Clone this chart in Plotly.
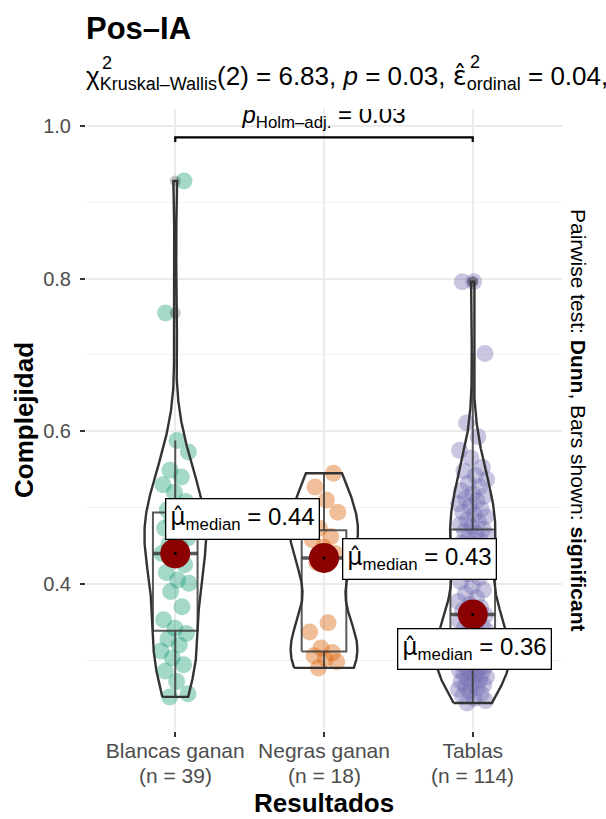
import numpy as np
import plotly.graph_objects as go

# ---------------- data ----------------
categories = ["Blancas ganan", "Negras ganan", "Tablas"]

blancas = [0.252, 0.256, 0.272, 0.286, 0.294, 0.303, 0.312, 0.320, 0.328, 0.335,
           0.342, 0.353, 0.370, 0.390, 0.401, 0.405, 0.415, 0.425, 0.435, 0.440,
           0.448, 0.452, 0.460, 0.466, 0.473, 0.478, 0.484, 0.486, 0.490, 0.497,
           0.508, 0.520, 0.530, 0.540, 0.549, 0.573, 0.588, 0.755, 0.928]

negras = [0.290, 0.298, 0.302, 0.306, 0.310, 0.316, 0.337, 0.349, 0.428, 0.440,
          0.448, 0.458, 0.462, 0.473, 0.494, 0.510, 0.527, 0.545]

tablas = [0.244, 0.247, 0.250, 0.253, 0.256, 0.259,
          0.262, 0.264, 0.266, 0.268, 0.270, 0.272, 0.274, 0.276, 0.278,
          0.281, 0.282, 0.284, 0.285, 0.287, 0.288, 0.290, 0.292, 0.294, 0.296, 0.297, 0.299,
          0.301, 0.302, 0.304, 0.305, 0.307, 0.309, 0.311, 0.312, 0.314, 0.316, 0.317, 0.319,
          0.321, 0.322, 0.324, 0.326, 0.328, 0.330, 0.332, 0.334, 0.336, 0.338, 0.339,
          0.342, 0.345, 0.348, 0.351, 0.354, 0.357, 0.359,
          0.361, 0.365, 0.369, 0.373, 0.377,
          0.382, 0.387, 0.392, 0.397,
          0.403, 0.408, 0.413, 0.418,
          0.422, 0.426, 0.430, 0.434, 0.438,
          0.441, 0.444, 0.447, 0.451, 0.454, 0.457,
          0.461, 0.463, 0.466, 0.469, 0.472, 0.475, 0.478,
          0.481, 0.484, 0.488, 0.491, 0.494, 0.498,
          0.502, 0.505, 0.509, 0.512, 0.515, 0.518,
          0.522, 0.527, 0.532, 0.537,
          0.542, 0.548, 0.553,
          0.565, 0.575, 0.593, 0.611, 0.702, 0.796, 0.796]

groups = [blancas, negras, tablas]
colors = ["#1B9E77", "#D95F02", "#7570B3"]
median_labels = ["0.44", "0.43", "0.36"]
label_pos = [(1.45, 0.485), (2.64, 0.433), (3.01, 0.315)]   # label box centres (data units)

yticks = [0.4, 0.6, 0.8, 1.0]
yminor = [0.3, 0.5, 0.7, 0.9]

title = "Pos–IA"
SUB = '<sub><span style="font-size:18px">{}</span></sub>'
HAT = "<span style=\"font-family:'DejaVu Sans'\">{}</span>"
subtitle = ("χ" + SUB.format("Kruskal–Wallis") + "(2) = 6.83, <i>p</i> = 0.03, "
            + HAT.format("ε̂") + SUB.format("ordinal") + " = 0.04,")
bracket_label = "<i>p</i><sub>Holm–adj.</sub> = 0.03"
bracket_y = 0.985
caption = "Pairwise test: <b>Dunn</b>, Bars shown: <b>significant</b>"

# ---------------- layout geometry ----------------
W, H = 606, 819
L, R, T, B = 86, 44, 109, 88
PW, PH = W - L - R, H - T - B
FONT = "Liberation Sans, Arial, sans-serif"


def px(x):
    return (x - L) / PW


def py(y):
    return (H - B - y) / PH


def bw_nrd0(v):
    v = np.asarray(v)
    sd = v.std(ddof=1)
    iqr = np.subtract(*np.percentile(v, [75, 25]))
    lo = min(sd, iqr / 1.34)
    return 0.9 * lo * len(v) ** (-0.2)


def kde(v, grid):
    v = np.asarray(v)
    bw = bw_nrd0(v)
    z = (grid[:, None] - v[None, :]) / bw
    return np.exp(-0.5 * z ** 2).sum(axis=1) / (len(v) * bw * np.sqrt(2 * np.pi))


dens = []
grids = []
for g in groups:
    grid = np.linspace(min(g), max(g), 512)
    grids.append(grid)
    dens.append(kde(g, grid))
dmax = max(d.max() for d in dens)

fig = go.Figure()

# jittered points
for i, g in enumerate(groups):
    n = len(g)
    jit = np.array([((k * 0.6180339887 + 0.31) % 1.0) - 0.5 for k in range(n)]) * 0.2
    fig.add_trace(go.Scatter(
        x=(i + 1) + jit, y=g, mode="markers",
        marker=dict(size=17, color=colors[i], opacity=0.4, line=dict(width=0)),
        hoverinfo="skip", showlegend=False))

# boxplots
for i, g in enumerate(groups):
    c = i + 1
    v = np.asarray(g)
    q1, med, q3 = np.percentile(v, [25, 50, 75])
    iqr = q3 - q1
    up = v[v <= q3 + 1.5 * iqr].max()
    lo = v[v >= q1 - 1.5 * iqr].min()
    hw = 0.15
    fig.add_trace(go.Scatter(
        x=[c - hw, c + hw, c + hw, c - hw, c - hw, None, c, c, None, c, c],
        y=[q1, q1, q3, q3, q1, None, q3, up, None, q1, lo],
        mode="lines", line=dict(color="rgba(60,60,60,0.85)", width=2),
        hoverinfo="skip", showlegend=False))
    fig.add_trace(go.Scatter(
        x=[c - hw, c + hw], y=[med, med], mode="lines",
        line=dict(color="rgba(60,60,60,0.85)", width=3.5),
        hoverinfo="skip", showlegend=False))
    outl = v[(v > q3 + 1.5 * iqr) | (v < q1 - 1.5 * iqr)]
    if len(outl):
        fig.add_trace(go.Scatter(
            x=[c] * len(outl), y=outl, mode="markers",
            marker=dict(size=11, color="rgba(0,0,0,0.22)", line=dict(width=0)),
            hoverinfo="skip", showlegend=False))

# violins (area scaled, width 0.5, trimmed)
for i in range(3):
    c = i + 1
    hw = dens[i] / dmax * 0.25
    xs = np.concatenate([c - hw, (c + hw)[::-1], [c - hw[0]]])
    ys = np.concatenate([grids[i], grids[i][::-1], [grids[i][0]]])
    fig.add_trace(go.Scatter(
        x=xs, y=ys, mode="lines", line=dict(color="#333333", width=2.4),
        hoverinfo="skip", showlegend=False))

# medians
for i, g in enumerate(groups):
    med = float(np.median(g))
    fig.add_trace(go.Scatter(
        x=[i + 1], y=[med], mode="markers",
        marker=dict(size=30, color="#8B0000", line=dict(width=0)),
        hoverinfo="skip", showlegend=False))
    fig.add_trace(go.Scatter(
        x=[i + 1], y=[med], mode="markers",
        marker=dict(size=3, color="black"),
        hoverinfo="skip", showlegend=False))

# significance bracket
fig.add_trace(go.Scatter(
    x=[1, 1, 3, 3], y=[bracket_y - 0.006, bracket_y, bracket_y, bracket_y - 0.006],
    mode="lines", line=dict(color="black", width=2.2),
    hoverinfo="skip", showlegend=False))
fig.add_trace(go.Scatter(
    x=[2], y=[1.012], mode="text", text=[bracket_label],
    textposition="middle center", cliponaxis=True,
    textfont=dict(size=24, color="black", family=FONT),
    hoverinfo="skip", showlegend=False))

annotations = []
for i in range(3):
    annotations.append(dict(
        x=label_pos[i][0], y=label_pos[i][1], xref="x", yref="y",
        text=HAT.format("μ̂") + "<sub>median</sub> = " + median_labels[i], showarrow=False,
        font=dict(size=24, color="black", family=FONT),
        bgcolor="white", bordercolor="black", borderwidth=1.3, borderpad=4,
        xanchor="center", yanchor="middle"))

# sample-size line under each category label
for i, g in enumerate(groups):
    annotations.append(dict(
        x=i + 1, y=py(775), xref="x", yref="paper", text=f"(n = {len(g)})",
        showarrow=False, xanchor="center", yanchor="middle",
        font=dict(size=21, color="#4D4D4D", family=FONT)))

annotations += [
    dict(x=px(84), y=py(28), xref="paper", yref="paper", text="<b>" + title + "</b>",
         showarrow=False, xanchor="left", yanchor="middle",
         font=dict(size=31, color="black", family=FONT)),
    dict(x=px(84), y=py(78), xref="paper", yref="paper", text=subtitle,
         showarrow=False, xanchor="left", yanchor="middle",
         font=dict(size=26, color="black", family=FONT)),
    dict(x=px(100), y=py(63), xref="paper", yref="paper", text="2",
         showarrow=False, xanchor="left", yanchor="middle",
         font=dict(size=18, color="black", family=FONT)),
    dict(x=px(468), y=py(62), xref="paper", yref="paper", text="2",
         showarrow=False, xanchor="left", yanchor="middle",
         font=dict(size=18, color="black", family=FONT)),
    dict(x=0.5, y=py(803), xref="paper", yref="paper", text="<b>Resultados</b>",
         showarrow=False, xanchor="center", yanchor="middle",
         font=dict(size=26, color="black", family=FONT)),
    dict(x=px(24), y=0.5, xref="paper", yref="paper", text="<b>Complejidad</b>",
         showarrow=False, xanchor="center", yanchor="middle", textangle=-90,
         font=dict(size=26, color="black", family=FONT)),
    dict(x=px(579), y=0.5, xref="paper", yref="paper", text=caption,
         showarrow=False, xanchor="center", yanchor="middle", textangle=90,
         font=dict(size=21, color="black", family=FONT)),
]

fig.update_layout(
    width=W, height=H, margin=dict(l=L, r=R, t=T, b=B),
    plot_bgcolor="white", paper_bgcolor="white",
    font=dict(family=FONT),
    annotations=annotations,
    xaxis=dict(range=[0.4, 3.6], tickvals=[1, 2, 3], ticktext=categories,
               showgrid=True, gridcolor="#EBEBEB", gridwidth=1.6, zeroline=False,
               ticks="outside", ticklen=5, tickwidth=2, tickcolor="#333333",
               tickfont=dict(size=21, color="#4D4D4D", family=FONT),
               ticklabelstandoff=-4,
               showline=False, fixedrange=True),
    yaxis=dict(range=[0.2073, 1.0223], tickvals=yticks,
               ticktext=[f"{t:.1f}" for t in yticks],
               showgrid=True, gridcolor="#EBEBEB", gridwidth=1.6, zeroline=False,
               ticks="outside", ticklen=5, tickwidth=2, tickcolor="#333333",
               tickfont=dict(size=20, color="#4D4D4D", family=FONT),
               ticklabelstandoff=5,
               minor=dict(tickvals=yminor, showgrid=True, gridcolor="#F2F2F2",
                          gridwidth=1, ticks=""),
               showline=False, fixedrange=True),
)

fig.write_html("out.html", config={"displayModeBar": False},
               post_script="document.body.style.margin='0';")
